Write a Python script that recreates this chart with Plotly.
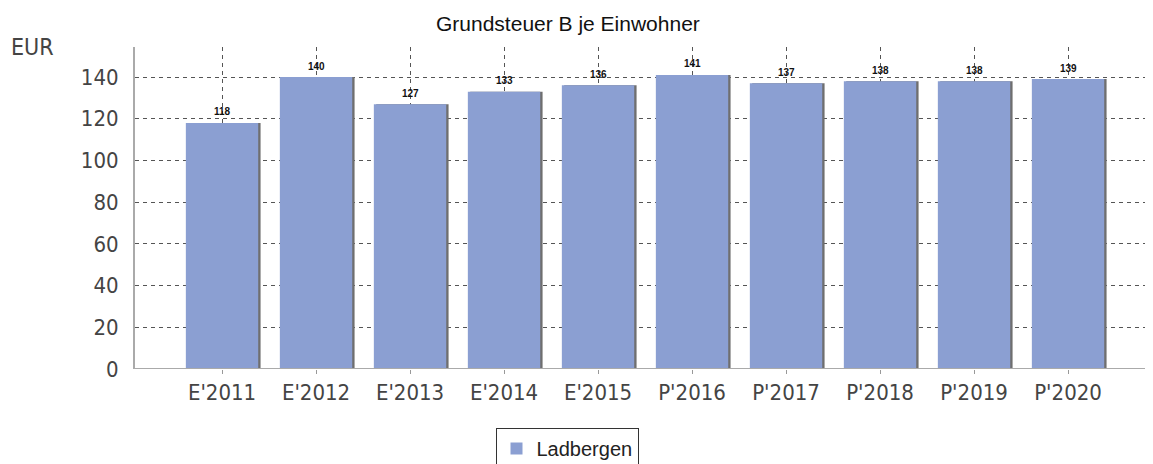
import plotly.graph_objects as go

categories = ["E'2011", "E'2012", "E'2013", "E'2014", "E'2015",
              "P'2016", "P'2017", "P'2018", "P'2019", "P'2020"]
values = [118, 140, 127, 133, 136, 141, 137, 138, 138, 139]
y_ticks = [0, 20, 40, 60, 80, 100, 120, 140]
series_name = "Ladbergen"

bar_color = "#8b9fd2"
tick_font = dict(family="DejaVu Sans Condensed, DejaVu Sans", size=22, color="#444444")

# page body has an 8px margin; plot area target: x 135..1153, y 47..369 (page px)
L, T, R, B = 127, 39, 0, 103
PW = 1153 - L - R
PH = 464 - T - B
XMAX = -0.926 + (PW / 94.0)

fig = go.Figure()

# shadow trace (drawn behind main bars)
fig.add_trace(go.Bar(
    x=categories, y=values, width=0.77, offset=-0.385 + 0.025,
    marker=dict(color="#6f6f6f", line=dict(width=0)),
    showlegend=False, hoverinfo="skip",
))

fig.add_trace(go.Bar(
    x=categories, y=values, width=0.77, offset=-0.385,
    name=series_name,
    marker=dict(color=bar_color, line=dict(width=0)),
    hoverinfo="x+y",
))

annotations = [
    dict(text=str(v), x=c, y=v, xref="x", yref="y", yshift=11,
         xanchor="center", yanchor="middle", showarrow=False,
         font=dict(family="Liberation Sans, Arial", size=10, color="#111111", weight="bold"))
    for c, v in zip(categories, values)
]
annotations += [
    dict(text="Grundsteuer B je Einwohner", xref="paper", yref="paper",
         x=(568 - 135) / PW, y=1, yshift=47 - 23, xanchor="center", yanchor="middle",
         showarrow=False, font=dict(family="Liberation Sans, Arial", size=21, color="#111111")),
    dict(text="EUR", xref="paper", yref="paper",
         x=(9 - 135) / PW, y=1, yshift=0, xanchor="left", yanchor="middle",
         showarrow=False, font=dict(family="DejaVu Sans Condensed, DejaVu Sans", size=23, color="#444444")),
]

fig.update_layout(
    width=1153, height=464,
    margin=dict(l=L, r=R, t=T, b=B, autoexpand=False),
    paper_bgcolor="white", plot_bgcolor="white",
    barmode="overlay",
    showlegend=True,
    legend=dict(
        orientation="h", x=(567 - 135) / PW, xanchor="center",
        y=-(428 - 369) / PH, yanchor="top",
        bordercolor="#333333", borderwidth=1,
        font=dict(family="Liberation Sans, Arial", size=20, color="#222222"),
        itemwidth=30,
    ),
    xaxis=dict(
        type="category",
        range=[-0.926, XMAX],
        showgrid=True, gridcolor="#555555", griddash="4px,4px", gridwidth=1,
        showline=False, zeroline=False,
        ticks="outside", ticklen=4, tickcolor="#999999",
        tickfont=tick_font,
    ),
    yaxis=dict(
        range=[0, 154.4],
        tickvals=y_ticks,
        showgrid=True, gridcolor="#555555", griddash="4px,4px", gridwidth=1,
        showline=True, linecolor="#aaaaaa", linewidth=2,
        zeroline=False,
        ticks="", tickfont=tick_font, ticklabelstandoff=10,
    ),
    annotations=annotations,
)

# x axis baseline at zero
fig.add_shape(type="line", xref="paper", yref="y", x0=0, x1=1, y0=0, y1=0,
              line=dict(color="#aaaaaa", width=2))

fig.write_html("out.html")
